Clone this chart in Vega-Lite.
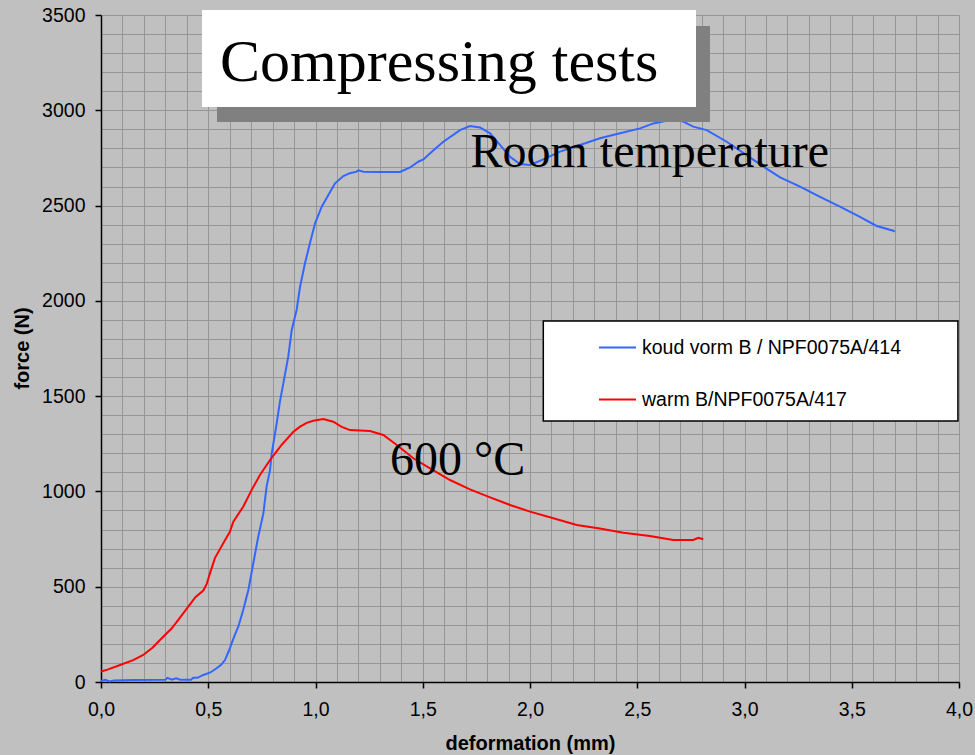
{
  "$schema": "https://vega.github.io/schema/vega-lite/v6.json",
  "width": 858,
  "height": 667,
  "autosize": "none",
  "padding": {"left": 101, "top": 15, "right": 16, "bottom": 73},
  "background": "#c0c0c0",
  "config": {
    "view": {"stroke": null},
    "font": "Liberation Sans",
    "axisX": {"tickCount": 40},
    "axisY": {"tickCount": 35}
  },
  "datasets": {
    "curves": [
      {"d": 0, "f": 5, "s": "koud vorm B / NPF0075A/414"},
      {"d": 0.02, "f": 12, "s": "koud vorm B / NPF0075A/414"},
      {"d": 0.04, "f": 3, "s": "koud vorm B / NPF0075A/414"},
      {"d": 0.06, "f": 8, "s": "koud vorm B / NPF0075A/414"},
      {"d": 0.15, "f": 10, "s": "koud vorm B / NPF0075A/414"},
      {"d": 0.3, "f": 12, "s": "koud vorm B / NPF0075A/414"},
      {"d": 0.31, "f": 22, "s": "koud vorm B / NPF0075A/414"},
      {"d": 0.33, "f": 12, "s": "koud vorm B / NPF0075A/414"},
      {"d": 0.35, "f": 20, "s": "koud vorm B / NPF0075A/414"},
      {"d": 0.37, "f": 12, "s": "koud vorm B / NPF0075A/414"},
      {"d": 0.42, "f": 12, "s": "koud vorm B / NPF0075A/414"},
      {"d": 0.43, "f": 22, "s": "koud vorm B / NPF0075A/414"},
      {"d": 0.45, "f": 22, "s": "koud vorm B / NPF0075A/414"},
      {"d": 0.477, "f": 37, "s": "koud vorm B / NPF0075A/414"},
      {"d": 0.51, "f": 50, "s": "koud vorm B / NPF0075A/414"},
      {"d": 0.539, "f": 72, "s": "koud vorm B / NPF0075A/414"},
      {"d": 0.56, "f": 90, "s": "koud vorm B / NPF0075A/414"},
      {"d": 0.578, "f": 115, "s": "koud vorm B / NPF0075A/414"},
      {"d": 0.595, "f": 160, "s": "koud vorm B / NPF0075A/414"},
      {"d": 0.609, "f": 203, "s": "koud vorm B / NPF0075A/414"},
      {"d": 0.625, "f": 250, "s": "koud vorm B / NPF0075A/414"},
      {"d": 0.64, "f": 290, "s": "koud vorm B / NPF0075A/414"},
      {"d": 0.663, "f": 378, "s": "koud vorm B / NPF0075A/414"},
      {"d": 0.687, "f": 483, "s": "koud vorm B / NPF0075A/414"},
      {"d": 0.71, "f": 623, "s": "koud vorm B / NPF0075A/414"},
      {"d": 0.733, "f": 762, "s": "koud vorm B / NPF0075A/414"},
      {"d": 0.757, "f": 885, "s": "koud vorm B / NPF0075A/414"},
      {"d": 0.772, "f": 1025, "s": "koud vorm B / NPF0075A/414"},
      {"d": 0.788, "f": 1112, "s": "koud vorm B / NPF0075A/414"},
      {"d": 0.796, "f": 1200, "s": "koud vorm B / NPF0075A/414"},
      {"d": 0.819, "f": 1357, "s": "koud vorm B / NPF0075A/414"},
      {"d": 0.834, "f": 1470, "s": "koud vorm B / NPF0075A/414"},
      {"d": 0.85, "f": 1567, "s": "koud vorm B / NPF0075A/414"},
      {"d": 0.873, "f": 1707, "s": "koud vorm B / NPF0075A/414"},
      {"d": 0.889, "f": 1847, "s": "koud vorm B / NPF0075A/414"},
      {"d": 0.912, "f": 1952, "s": "koud vorm B / NPF0075A/414"},
      {"d": 0.928, "f": 2074, "s": "koud vorm B / NPF0075A/414"},
      {"d": 0.951, "f": 2197, "s": "koud vorm B / NPF0075A/414"},
      {"d": 0.974, "f": 2302, "s": "koud vorm B / NPF0075A/414"},
      {"d": 0.998, "f": 2407, "s": "koud vorm B / NPF0075A/414"},
      {"d": 1.029, "f": 2494, "s": "koud vorm B / NPF0075A/414"},
      {"d": 1.06, "f": 2555, "s": "koud vorm B / NPF0075A/414"},
      {"d": 1.091, "f": 2617, "s": "koud vorm B / NPF0075A/414"},
      {"d": 1.13, "f": 2655, "s": "koud vorm B / NPF0075A/414"},
      {"d": 1.16, "f": 2670, "s": "koud vorm B / NPF0075A/414"},
      {"d": 1.192, "f": 2678, "s": "koud vorm B / NPF0075A/414"},
      {"d": 1.2, "f": 2685, "s": "koud vorm B / NPF0075A/414"},
      {"d": 1.223, "f": 2678, "s": "koud vorm B / NPF0075A/414"},
      {"d": 1.3, "f": 2676, "s": "koud vorm B / NPF0075A/414"},
      {"d": 1.394, "f": 2676, "s": "koud vorm B / NPF0075A/414"},
      {"d": 1.441, "f": 2700, "s": "koud vorm B / NPF0075A/414"},
      {"d": 1.479, "f": 2730, "s": "koud vorm B / NPF0075A/414"},
      {"d": 1.503, "f": 2742, "s": "koud vorm B / NPF0075A/414"},
      {"d": 1.55, "f": 2790, "s": "koud vorm B / NPF0075A/414"},
      {"d": 1.596, "f": 2835, "s": "koud vorm B / NPF0075A/414"},
      {"d": 1.674, "f": 2896, "s": "koud vorm B / NPF0075A/414"},
      {"d": 1.72, "f": 2917, "s": "koud vorm B / NPF0075A/414"},
      {"d": 1.767, "f": 2910, "s": "koud vorm B / NPF0075A/414"},
      {"d": 1.814, "f": 2879, "s": "koud vorm B / NPF0075A/414"},
      {"d": 1.86, "f": 2818, "s": "koud vorm B / NPF0075A/414"},
      {"d": 1.907, "f": 2756, "s": "koud vorm B / NPF0075A/414"},
      {"d": 1.953, "f": 2718, "s": "koud vorm B / NPF0075A/414"},
      {"d": 2.0, "f": 2713, "s": "koud vorm B / NPF0075A/414"},
      {"d": 2.062, "f": 2742, "s": "koud vorm B / NPF0075A/414"},
      {"d": 2.14, "f": 2783, "s": "koud vorm B / NPF0075A/414"},
      {"d": 2.233, "f": 2818, "s": "koud vorm B / NPF0075A/414"},
      {"d": 2.326, "f": 2853, "s": "koud vorm B / NPF0075A/414"},
      {"d": 2.42, "f": 2879, "s": "koud vorm B / NPF0075A/414"},
      {"d": 2.513, "f": 2905, "s": "koud vorm B / NPF0075A/414"},
      {"d": 2.575, "f": 2931, "s": "koud vorm B / NPF0075A/414"},
      {"d": 2.637, "f": 2945, "s": "koud vorm B / NPF0075A/414"},
      {"d": 2.68, "f": 2955, "s": "koud vorm B / NPF0075A/414"},
      {"d": 2.715, "f": 2940, "s": "koud vorm B / NPF0075A/414"},
      {"d": 2.761, "f": 2914, "s": "koud vorm B / NPF0075A/414"},
      {"d": 2.824, "f": 2896, "s": "koud vorm B / NPF0075A/414"},
      {"d": 2.917, "f": 2835, "s": "koud vorm B / NPF0075A/414"},
      {"d": 3.01, "f": 2765, "s": "koud vorm B / NPF0075A/414"},
      {"d": 3.088, "f": 2704, "s": "koud vorm B / NPF0075A/414"},
      {"d": 3.166, "f": 2648, "s": "koud vorm B / NPF0075A/414"},
      {"d": 3.259, "f": 2599, "s": "koud vorm B / NPF0075A/414"},
      {"d": 3.352, "f": 2546, "s": "koud vorm B / NPF0075A/414"},
      {"d": 3.445, "f": 2494, "s": "koud vorm B / NPF0075A/414"},
      {"d": 3.538, "f": 2441, "s": "koud vorm B / NPF0075A/414"},
      {"d": 3.616, "f": 2393, "s": "koud vorm B / NPF0075A/414"},
      {"d": 3.694, "f": 2368, "s": "koud vorm B / NPF0075A/414"},
      {"d": 3.7, "f": 2362, "s": "koud vorm B / NPF0075A/414"},
      {"d": 0, "f": 55, "s": "warm B/NPF0075A/417"},
      {"d": 0.03, "f": 65, "s": "warm B/NPF0075A/417"},
      {"d": 0.089, "f": 89, "s": "warm B/NPF0075A/417"},
      {"d": 0.15, "f": 115, "s": "warm B/NPF0075A/417"},
      {"d": 0.197, "f": 142, "s": "warm B/NPF0075A/417"},
      {"d": 0.24, "f": 180, "s": "warm B/NPF0075A/417"},
      {"d": 0.275, "f": 220, "s": "warm B/NPF0075A/417"},
      {"d": 0.33, "f": 282, "s": "warm B/NPF0075A/417"},
      {"d": 0.37, "f": 340, "s": "warm B/NPF0075A/417"},
      {"d": 0.407, "f": 395, "s": "warm B/NPF0075A/417"},
      {"d": 0.44, "f": 445, "s": "warm B/NPF0075A/417"},
      {"d": 0.477, "f": 480, "s": "warm B/NPF0075A/417"},
      {"d": 0.493, "f": 515, "s": "warm B/NPF0075A/417"},
      {"d": 0.508, "f": 570, "s": "warm B/NPF0075A/417"},
      {"d": 0.531, "f": 650, "s": "warm B/NPF0075A/417"},
      {"d": 0.57, "f": 728, "s": "warm B/NPF0075A/417"},
      {"d": 0.601, "f": 789, "s": "warm B/NPF0075A/417"},
      {"d": 0.617, "f": 841, "s": "warm B/NPF0075A/417"},
      {"d": 0.663, "f": 920, "s": "warm B/NPF0075A/417"},
      {"d": 0.702, "f": 1007, "s": "warm B/NPF0075A/417"},
      {"d": 0.741, "f": 1086, "s": "warm B/NPF0075A/417"},
      {"d": 0.788, "f": 1165, "s": "warm B/NPF0075A/417"},
      {"d": 0.842, "f": 1244, "s": "warm B/NPF0075A/417"},
      {"d": 0.897, "f": 1313, "s": "warm B/NPF0075A/417"},
      {"d": 0.928, "f": 1340, "s": "warm B/NPF0075A/417"},
      {"d": 0.959, "f": 1360, "s": "warm B/NPF0075A/417"},
      {"d": 0.99, "f": 1371, "s": "warm B/NPF0075A/417"},
      {"d": 1.036, "f": 1380, "s": "warm B/NPF0075A/417"},
      {"d": 1.083, "f": 1366, "s": "warm B/NPF0075A/417"},
      {"d": 1.12, "f": 1340, "s": "warm B/NPF0075A/417"},
      {"d": 1.161, "f": 1322, "s": "warm B/NPF0075A/417"},
      {"d": 1.254, "f": 1317, "s": "warm B/NPF0075A/417"},
      {"d": 1.316, "f": 1296, "s": "warm B/NPF0075A/417"},
      {"d": 1.379, "f": 1244, "s": "warm B/NPF0075A/417"},
      {"d": 1.456, "f": 1174, "s": "warm B/NPF0075A/417"},
      {"d": 1.534, "f": 1121, "s": "warm B/NPF0075A/417"},
      {"d": 1.627, "f": 1060, "s": "warm B/NPF0075A/417"},
      {"d": 1.72, "f": 1011, "s": "warm B/NPF0075A/417"},
      {"d": 1.814, "f": 969, "s": "warm B/NPF0075A/417"},
      {"d": 1.907, "f": 929, "s": "warm B/NPF0075A/417"},
      {"d": 2.0, "f": 894, "s": "warm B/NPF0075A/417"},
      {"d": 2.109, "f": 859, "s": "warm B/NPF0075A/417"},
      {"d": 2.218, "f": 824, "s": "warm B/NPF0075A/417"},
      {"d": 2.326, "f": 806, "s": "warm B/NPF0075A/417"},
      {"d": 2.435, "f": 783, "s": "warm B/NPF0075A/417"},
      {"d": 2.559, "f": 766, "s": "warm B/NPF0075A/417"},
      {"d": 2.668, "f": 745, "s": "warm B/NPF0075A/417"},
      {"d": 2.761, "f": 745, "s": "warm B/NPF0075A/417"},
      {"d": 2.785, "f": 757, "s": "warm B/NPF0075A/417"},
      {"d": 2.808, "f": 749, "s": "warm B/NPF0075A/417"}
    ]
  },
  "layer": [
    {
      "data": {"name": "curves"},
      "mark": {"type": "line", "strokeWidth": 2},
      "encoding": {
        "x": {
          "field": "d",
          "type": "quantitative",
          "scale": {"domain": [0, 4], "nice": false, "zero": false},
          "axis": {
            "title": "deformation (mm)",
            "tickCount": 40,
            "grid": true,
            "gridColor": "#969696",
            "gridWidth": 1,
            "domainColor": "black",
            "domainWidth": 1.5,
            "tickColor": "black",
            "tickWidth": 1.5,
            "tickSize": 6,
            "tickOpacity": {"condition": {"test": "abs(datum.value*2 - round(datum.value*2)) > 0.001", "value": 0}, "value": 1},
            "labelExpr": "abs(datum.value*2 - round(datum.value*2)) > 0.001 ? '' : replace(format(datum.value, '.1f'), '.', ',')",
            "labelFontSize": 19.5,
            "labelColor": "black",
            "labelPadding": 12,
            "labelFlush": false,
            "labelOverlap": false,
            "titleFontSize": 20,
            "titleFontWeight": "bold",
            "titleColor": "black",
            "titleX": 429,
            "titleY": 67,
            "titleAlign": "center",
            "titleBaseline": "alphabetic"
          }
        },
        "y": {
          "field": "f",
          "type": "quantitative",
          "scale": {"domain": [0, 3500], "nice": false},
          "axis": {
            "title": "force (N)",
            "tickCount": 35,
            "grid": true,
            "gridColor": "#969696",
            "gridWidth": 1,
            "domainColor": "black",
            "domainWidth": 1.5,
            "tickColor": "black",
            "tickWidth": 1.5,
            "tickSize": 6,
            "tickOpacity": {"condition": {"test": "datum.value % 500 != 0", "value": 0}, "value": 1},
            "labelExpr": "datum.value % 500 == 0 ? format(datum.value, 'd') : ''",
            "labelFontSize": 19.5,
            "labelColor": "black",
            "labelPadding": 10,
            "labelOverlap": false,
            "labelFlush": false,
            "titleFontSize": 20,
            "titleFontWeight": "bold",
            "titleColor": "black",
            "titleX": -73,
            "titleY": 333,
            "titleAngle": 270,
            "titleAlign": "center",
            "titleBaseline": "alphabetic"
          }
        },
        "color": {
          "field": "s",
          "type": "nominal",
          "scale": {"domain": ["koud vorm B / NPF0075A/414", "warm B/NPF0075A/417"], "range": ["#3366ff", "#ff0000"]},
          "legend": {
            "title": null,
            "orient": "none",
            "legendX": 497,
            "legendY": 313,
            "padding": 0,
            "symbolType": "stroke",
            "symbolSize": 1369,
            "symbolStrokeWidth": 2,
            "labelFontSize": 19.5,
            "labelColor": "black",
            "labelOffset": 5,
            "rowPadding": 23,
            "labelLimit": 400
          }
        }
      }
    },
    {
      "data": {"values": [{}]},
      "mark": {"type": "rect", "fill": "white", "stroke": "black", "strokeWidth": 1.5},
      "encoding": {
        "x": {"datum": 2.062},
        "x2": {"datum": 3.995},
        "y": {"datum": 1894},
        "y2": {"datum": 1369}
      }
    },
    {
      "data": {"values": [{}]},
      "mark": {"type": "rect", "fill": "#808080"},
      "encoding": {
        "x": {"datum": 0.5408},
        "x2": {"datum": 2.8392},
        "y": {"datum": 3442},
        "y2": {"datum": 2938}
      }
    },
    {
      "data": {"values": [{}]},
      "mark": {"type": "rect", "fill": "white"},
      "encoding": {
        "x": {"datum": 0.4709},
        "x2": {"datum": 2.7739},
        "y": {"datum": 3526},
        "y2": {"datum": 3017}
      }
    },
    {
      "data": {"values": [{}]},
      "mark": {"type": "text", "text": "Compressing tests", "font": "Liberation Serif", "fontSize": 60, "align": "left", "baseline": "alphabetic", "color": "black"},
      "encoding": {
        "x": {"datum": 0.555},
        "y": {"datum": 3153}
      }
    },
    {
      "data": {"values": [{}]},
      "mark": {"type": "text", "text": "Room temperature", "font": "Liberation Serif", "fontSize": 48, "align": "left", "baseline": "alphabetic", "color": "black"},
      "encoding": {
        "x": {"datum": 1.7226},
        "y": {"datum": 2704}
      }
    },
    {
      "data": {"values": [{}]},
      "mark": {"type": "text", "text": "600 °C", "font": "Liberation Serif", "fontSize": 48, "align": "left", "baseline": "alphabetic", "color": "black"},
      "encoding": {
        "x": {"datum": 1.347},
        "y": {"datum": 1086}
      }
    }
  ]
}
